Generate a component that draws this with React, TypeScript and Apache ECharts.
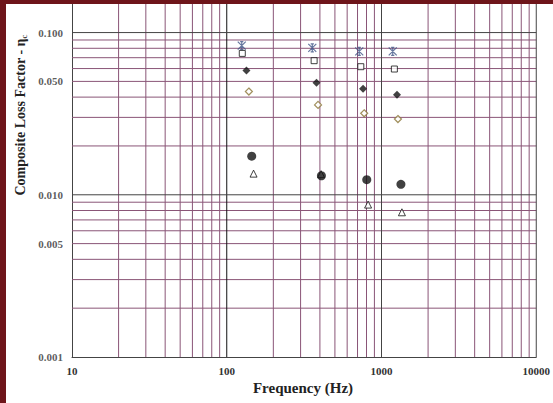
import React, { useEffect, useRef } from "react";
import * as echarts from "echarts";

// Frequency (Hz) / loss factor pairs for each marker series
const asteriskData = [[125, 0.083], [357, 0.0804], [718, 0.0766], [1182, 0.0766]];
const squareData = [[126, 0.0744], [367, 0.0671], [735, 0.0616], [1211, 0.0596]];
const filledDiamondData = [[134, 0.0584], [380, 0.049], [760, 0.045], [1259, 0.0413]];
const openDiamondData = [[139, 0.0433], [389, 0.0358], [773, 0.0318], [1277, 0.0293]];
const triangleData = [[149, 0.0135], [407, 0.0134], [819, 0.0087], [1355, 0.0078]];
const filledCircleData = [[145, 0.0173], [409, 0.0131], [803, 0.0124], [1335, 0.0116]];

// Axis range, grid lines and tick labels
const xRange = [10, 10000];
const yRange = [0.001, 0.15];
const xMinorGrid = [20, 30, 40, 50, 60, 70, 80, 90, 200, 300, 400, 500, 600, 700, 800, 900, 2000, 3000, 4000, 5000, 6000, 7000, 8000, 9000];
const xMajorGrid = [100, 1000, 10000];
const yMinorGrid = [0.002, 0.003, 0.004, 0.005, 0.006, 0.007, 0.008, 0.009, 0.02, 0.03, 0.04, 0.05, 0.06, 0.07, 0.08, 0.09];
const yMajorGrid = [0.01, 0.1];
const yTickLabels = [0.1, 0.05, 0.01, 0.005, 0.001];

const GRID_MINOR = "#8a5577";
const SERIF = "'Liberation Serif', 'Times New Roman', serif";

export default function App() {
  const ref = useRef<HTMLDivElement>(null);
  useEffect(() => {
    if (!ref.current) return;
    const chart = echarts.init(ref.current, null, { renderer: "svg" });

    const gridLine = (data: number[][], color: string) => ({
      type: "line",
      data,
      z: 1,
      silent: true,
      symbol: "none",
      lineStyle: { color, width: 1, type: "solid" },
      emphasis: { disabled: true },
    });
    const gridSeries = [
      ...xMinorGrid.map((v) => gridLine([[v, yRange[0]], [v, yRange[1]]], GRID_MINOR)),
      ...yMinorGrid.map((v) => gridLine([[xRange[0], v], [xRange[1], v]], GRID_MINOR)),
      ...xMajorGrid.map((v) => gridLine([[v, yRange[0]], [v, yRange[1]]], v === 100 ? "#111" : "#444")),
      ...yMajorGrid.map((v) => gridLine([[xRange[0], v], [xRange[1], v]], "#444")),
    ];

    const open = { color: "#fff", borderWidth: 1 };
    chart.setOption({
      animation: false,
      backgroundColor: "#fff",
      grid: { left: 72, right: 11, top: 4, bottom: 46 },
      xAxis: {
        type: "log",
        logBase: 10,
        min: xRange[0],
        max: xRange[1],
        axisLine: { show: true, lineStyle: { color: "#444", width: 1 } },
        axisTick: { show: false },
        splitLine: { show: false },
        axisLabel: {
          formatter: (v: number) => String(Math.round(v)),
          fontFamily: SERIF,
          fontWeight: "bold",
          fontSize: 11,
          color: "#333",
          margin: 8,
        },
      },
      yAxis: {
        type: "log",
        logBase: 10,
        min: yRange[0],
        max: yRange[1],
        axisLine: { show: true, lineStyle: { color: "#444", width: 1 } },
        axisTick: { show: false },
        splitLine: { show: false },
        axisLabel: { show: false },
      },
      graphic: [
        {
          type: "text",
          x: 20,
          y: 115,
          rotation: Math.PI / 2,
          style: {
            text: "{a|Composite Loss Factor - η}{b|c}",
            align: "center",
            verticalAlign: "middle",
            rich: {
              a: { fontFamily: SERIF, fontSize: 14, fill: "#222", fontWeight: "bold" },
              b: { fontFamily: SERIF, fontSize: 9, fill: "#222", verticalAlign: "bottom", padding: [8, 0, 0, 0] },
            },
          },
        },
        {
          type: "text",
          x: 303,
          y: 388,
          style: {
            text: "Frequency (Hz)",
            align: "center",
            verticalAlign: "middle",
            fontFamily: SERIF,
            fontSize: 15,
            fontWeight: "bold",
            fill: "#222",
          },
        },
        { type: "rect", shape: { x: 0, y: 0, width: 6, height: 403 }, style: { fill: "#6e151a" }, z: 100 },
        { type: "rect", shape: { x: 0, y: 0, width: 553, height: 4 }, style: { fill: "#6e151a" }, z: 100 },
      ],
      series: [
        ...gridSeries,
        {
          type: "scatter",
          z: 2,
          silent: true,
          data: yTickLabels.map((v) => [xRange[0], v]),
          symbolSize: 0,
          label: {
            show: true,
            position: "left",
            distance: 9,
            formatter: (p: any) => p.value[1].toFixed(3),
            fontFamily: SERIF,
            fontWeight: "bold",
            fontSize: 11,
            color: "#333",
          },
        },
        {
          type: "scatter",
          z: 3,
          data: asteriskData,
          symbol: "path://M0,0L10,10M10,0L0,10M5,0L5,10M3,0L7,0M3,10L7,10",
          symbolSize: 8,
          itemStyle: { color: "none", borderColor: "#3f5486", borderWidth: 1.2 },
        },
        {
          type: "scatter",
          z: 3,
          data: squareData,
          symbol: "rect",
          symbolSize: 6,
          itemStyle: { ...open, borderColor: "#111" },
        },
        {
          type: "scatter",
          z: 3,
          data: filledDiamondData,
          symbol: "diamond",
          symbolSize: 8,
          itemStyle: { color: "#111" },
        },
        {
          type: "scatter",
          z: 3,
          data: openDiamondData,
          symbol: "diamond",
          symbolSize: 7,
          itemStyle: { ...open, borderColor: "#8a7434", borderWidth: 1.2 },
        },
        {
          type: "scatter",
          z: 3,
          data: triangleData,
          symbol: "triangle",
          symbolSize: 7,
          itemStyle: { ...open, borderColor: "#111" },
        },
        {
          type: "scatter",
          z: 3,
          data: filledCircleData,
          symbol: "circle",
          symbolSize: 9,
          itemStyle: { color: "#111" },
        },
      ],
    });
    return () => chart.dispose();
  }, []);
  return (
    <div
      ref={ref}
      style={{ position: "fixed", left: 0, top: 0, width: 553, height: 403 }}
    />
  );
}
